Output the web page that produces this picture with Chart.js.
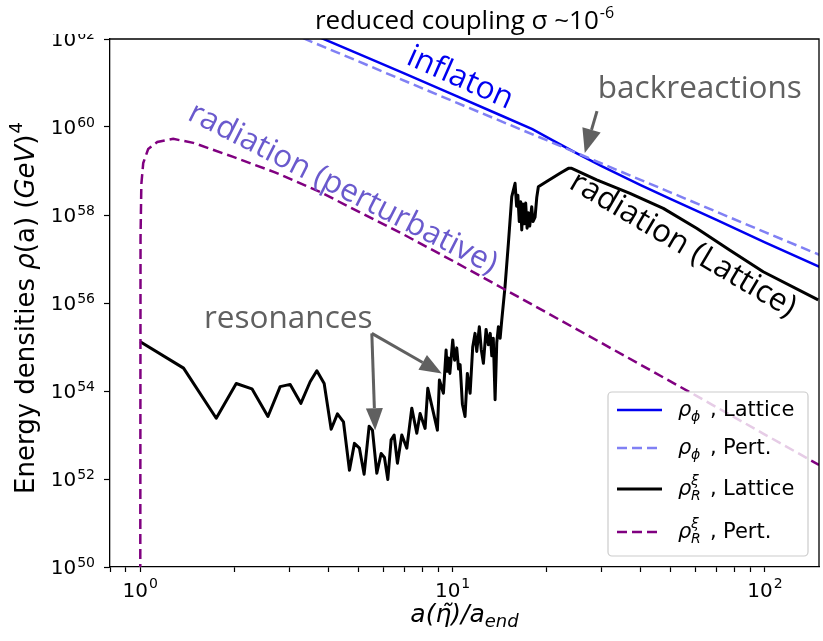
<!DOCTYPE html>
<html>
<head>
<meta charset="utf-8">
<style>
  html, body { margin: 0; padding: 0; background: #ffffff; }
  #wrap { width: 823px; height: 641px; }
</style>
<script src="https://cdn.jsdelivr.net/npm/chart.js@4.4.1/dist/chart.umd.min.js"></script>
</head>
<body>
<div id="wrap"><canvas id="c" width="823" height="641"></canvas></div>
<script>
// ---- data (scale factor a/a_end, log10 of energy density in GeV^4) ----
const inflLatticeA   = [3.5, 5, 7, 10, 14, 18, 21, 25, 30, 40, 50, 70, 100, 150];
const inflLatticeLog = [62.13, 61.66, 61.22, 60.74, 60.29, 59.95, 59.69, 59.40, 59.11, 58.68, 58.36, 57.89, 57.38, 56.82];

const inflPertA   = [3, 5, 10, 20, 30, 50, 100, 150];
const inflPertLog = [62.15, 61.49, 60.59, 59.70, 59.17, 58.51, 57.61, 57.09];

const radLatticeA = [1.000,1.376,1.751,2.029,2.278,2.563,2.805,3.020,3.267,3.499,
  3.676,3.880,4.085,4.279,4.473,4.675,4.850,5.032,5.209,5.405,
  5.539,5.720,5.905,6.051,6.203,6.356,6.498,6.659,6.877,7.135,
  7.402,7.680,7.870,8.166,8.329,8.641,8.941,9.074,9.346,
  9.533,9.61,9.696,9.80,10.01,10.15,10.31,10.45,10.57,10.75,10.96,11.15,11.38,11.60,11.80,11.95,
  12.18,12.35,12.55,12.80,13.02,13.20,13.35,13.50,13.68,13.85,14.02,14.20,
  14.37,14.72,15.09,15.47,
  15.85,16.03,16.18,16.35,16.52,16.65,16.81,16.96,17.14,17.32,17.48,17.66,17.92,18.09,18.37,18.60,18.82,
  20.01,22.08,23.48,24.07,28.93,36.98,47.28,60.44,77.27,98.76,148.1];
const radLatticeLog = [55.12,54.52,53.38,54.17,54.05,53.42,54.10,54.15,53.72,54.21,
  54.46,54.17,53.13,53.48,53.30,52.20,52.81,52.70,52.11,53.20,
  53.11,52.13,52.58,52.49,51.99,52.89,53.00,52.36,53.00,52.70,
  53.61,53.04,53.49,53.15,54.06,53.57,53.11,54.25,53.95,
  54.93,54.45,54.75,54.40,55.16,54.70,54.98,54.50,54.60,53.70,53.42,54.40,53.95,55.00,55.31,54.90,
  55.46,54.95,54.63,55.40,55.05,55.31,54.80,55.20,53.80,55.10,55.46,55.20,
  55.61,56.37,57.36,58.42,
  58.72,58.20,58.45,57.85,58.30,57.66,58.25,57.80,58.27,57.70,58.05,57.75,58.19,57.85,57.95,58.40,58.64,
  58.76,58.95,59.06,59.06,58.80,58.49,58.15,57.70,57.20,56.71,56.07];

const radPertA   = [1.0, 1.002, 1.008, 1.022, 1.06, 1.134, 1.275, 1.478, 1.985, 2.7, 3.77, 7.0, 10.0, 14.5, 30, 60, 100, 149];
const radPertLog = [49.5, 57.5, 58.7, 59.18, 59.5, 59.66, 59.73, 59.64, 59.32, 58.97, 58.52, 57.55, 56.96, 56.33, 55.09, 53.90, 53.01, 52.32];

// ---- axes ----
const xTickValues = [0.8, 0.9, 1, 2, 3, 4, 5, 6, 7, 8, 9, 10, 20, 30, 40, 50, 60, 70, 80, 90, 100];
const xLabelExps  = [0, 1, 2];
const yLabelExps  = [50, 52, 54, 56, 58, 60, 62];

const toPoints = (xs, logs) => xs.map((a, i) => ({ x: a, y: Math.pow(10, logs[i]) }));

const COLORS = {
  inflLattice: '#0000f0',
  inflPert: '#8080f4',
  radLattice: '#000000',
  radPert: '#800080',
  note: '#606060',
  pertText: '#6a5acd'
};

function supText(ctx, parts, x, y, align) {
  // parts: [{t, font, dy, gap}] drawn left to right
  let w = 0;
  parts.forEach(p => { ctx.font = p.font; p.w = ctx.measureText(p.t).width; w += p.w + (p.gap || 0); });
  let cx = align === 'right' ? x - w : (align === 'center' ? x - w / 2 : x);
  ctx.textAlign = 'left';
  ctx.textBaseline = 'alphabetic';
  parts.forEach(p => { ctx.font = p.font; ctx.fillText(p.t, cx, y + (p.dy || 0)); cx += p.w + (p.gap || 0); });
  return w;
}

function arrow(ctx, x0, y0, x1, y1, headLen, headW) {
  const ang = Math.atan2(y1 - y0, x1 - x0);
  const bx = x1 - headLen * Math.cos(ang), by = y1 - headLen * Math.sin(ang);
  ctx.beginPath(); ctx.moveTo(x0, y0); ctx.lineTo(bx, by); ctx.stroke();
  ctx.beginPath();
  ctx.moveTo(x1, y1);
  ctx.lineTo(bx + headW / 2 * Math.sin(ang), by - headW / 2 * Math.cos(ang));
  ctx.lineTo(bx - headW / 2 * Math.sin(ang), by + headW / 2 * Math.cos(ang));
  ctx.closePath(); ctx.fill();
}

const decor = {
  id: 'decor',
  afterDraw(chart) {
    const ctx = chart.ctx;
    const xs = chart.scales.x, ys = chart.scales.y;
    const area = chart.chartArea;
    const P = (a, e) => [xs.getPixelForValue(a), ys.getPixelForValue(Math.pow(10, e))];
    ctx.save();

    // top and right frame
    ctx.strokeStyle = '#000'; ctx.lineWidth = 1.3;
    ctx.beginPath();
    ctx.moveTo(area.left, area.top); ctx.lineTo(area.right, area.top); ctx.lineTo(area.right, area.bottom);
    ctx.stroke();

    // y tick labels
    ctx.fillStyle = '#000';
    yLabelExps.forEach(e => {
      const y = ys.getPixelForValue(Math.pow(10, e));
      supText(ctx, [
        { t: '10', font: '20px "DejaVu Sans"', gap: 1 },
        { t: String(e), font: '14px "DejaVu Sans"', dy: -7 }
      ], area.left - 15, y + 7, 'right');
    });
    // x tick labels
    xLabelExps.forEach(e => {
      const x = xs.getPixelForValue(Math.pow(10, e));
      supText(ctx, [
        { t: '10', font: '20px "DejaVu Sans"', gap: 1 },
        { t: String(e), font: '14px "DejaVu Sans"', dy: -9 }
      ], x, area.bottom + 30, 'center');
    });

    // white band at the very top, title above it
    ctx.fillStyle = '#ffffff';
    ctx.fillRect(0, 0, chart.width, area.top - 5);
    ctx.fillStyle = '#000';
    supText(ctx, [
      { t: 'reduced coupling σ ~10', font: '26px "Open Sans"', gap: 1 },
      { t: '-6', font: '16px "Open Sans"', dy: -11 }
    ], (area.left + area.right) / 2, 29, 'center');

    // axis titles
    ctx.fillStyle = '#000';
    supText(ctx, [
      { t: 'a(η\u0303)/a', font: 'italic 25px "DejaVu Sans"', gap: 0 },
      { t: 'end', font: 'italic 18px "DejaVu Sans"', dy: 5 }
    ], (area.left + area.right) / 2, 622, 'center');

    ctx.save();
    ctx.translate(34, 308);
    ctx.rotate(-Math.PI / 2);
    supText(ctx, [
      { t: 'Energy densities ', font: '26px "DejaVu Sans"' },
      { t: 'ρ', font: 'italic 26px "DejaVu Sans"' },
      { t: '(a) (', font: '26px "DejaVu Sans"' },
      { t: 'GeV', font: 'italic 26px "DejaVu Sans"' },
      { t: ')', font: '26px "DejaVu Sans"', gap: 1 },
      { t: '4', font: '18px "DejaVu Sans"', dy: -12 }
    ], 0, 0, 'center');
    ctx.restore();

    // annotations
    const rotText = (txt, color, font, a, e, deg) => {
      const [x, y] = P(a, e);
      ctx.save();
      ctx.translate(x, y); ctx.rotate(deg * Math.PI / 180);
      ctx.fillStyle = color; ctx.font = font;
      ctx.textAlign = 'center'; ctx.textBaseline = 'middle';
      ctx.fillText(txt, 0, 0);
      ctx.restore();
    };
    const noteFont = '31.5px "Open Sans"';
    rotText('inflaton', COLORS.inflLattice, noteFont, 10.57, 61.11, 24);
    rotText('radiation (perturbative)', COLORS.pertText, noteFont, 4.45, 58.60, 27);
    rotText('radiation (Lattice)', '#000', noteFont, 54.6, 57.32, 30.5);

    ctx.fillStyle = COLORS.note;
    ctx.font = noteFont;
    ctx.textAlign = 'center'; ctx.textBaseline = 'alphabetic';
    let [tx, ty] = P(61.9, 60.66);
    ctx.fillText('backreactions', tx, ty);
    [tx, ty] = P(2.976, 55.43);
    ctx.fillText('resonances', tx, ty);

    ctx.strokeStyle = COLORS.note; ctx.fillStyle = COLORS.note; ctx.lineWidth = 3;
    const t0 = P(29.0, 60.36), t1 = P(26.5, 59.41);
    arrow(ctx, t0[0], t0[1], t1[0], t1[1], 24, 19);
    const r0 = P(5.513, 55.31);
    let r1 = P(5.649, 53.11);
    arrow(ctx, r0[0], r0[1], r1[0], r1[1], 22, 17);
    r1 = P(9.235, 54.40);
    arrow(ctx, r0[0], r0[1], r1[0], r1[1], 22, 17);

    // legend
    const L = { x: 608, y: 392, w: 200, h: 164 };
    ctx.fillStyle = 'rgba(255,255,255,0.8)';
    ctx.strokeStyle = '#cccccc'; ctx.lineWidth = 1.2;
    ctx.beginPath();
    ctx.roundRect(L.x, L.y, L.w, L.h, 4);
    ctx.fill(); ctx.stroke();
    const rows = [
      { ds: 0, y: 410, sub: 'ϕ', sup: null, lbl: 'Lattice' },
      { ds: 1, y: 448, sub: 'ϕ', sup: null, lbl: 'Pert.' },
      { ds: 2, y: 489, sub: 'R', sup: 'ξ', lbl: 'Lattice' },
      { ds: 3, y: 532, sub: 'R', sup: 'ξ', lbl: 'Pert.' }
    ];
    rows.forEach(r => {
      const d = chart.data.datasets[r.ds];
      ctx.save();
      ctx.strokeStyle = d.borderColor; ctx.lineWidth = d.borderWidth;
      ctx.setLineDash(d.borderDash || []);
      ctx.beginPath(); ctx.moveTo(617, r.y); ctx.lineTo(662, r.y); ctx.stroke();
      ctx.restore();
      ctx.fillStyle = '#000';
      ctx.textAlign = 'left'; ctx.textBaseline = 'alphabetic';
      const base = r.y + 6;
      ctx.font = 'italic 21px "DejaVu Sans"';
      ctx.fillText('ρ', 678, base);
      ctx.font = 'italic 14px "DejaVu Sans"';
      ctx.fillText(r.sub, 691, base + 5);
      if (r.sup) ctx.fillText(r.sup, 691, base - 10);
      ctx.font = '21px "DejaVu Sans"';
      ctx.fillText(',', 710, base);
      ctx.fillText(r.lbl, 723, base);
    });

    ctx.restore();
  }
};

new Chart(document.getElementById('c'), {
  type: 'line',
  data: {
    datasets: [
      { label: 'rho_phi Lattice', data: toPoints(inflLatticeA, inflLatticeLog), borderColor: COLORS.inflLattice,
        borderWidth: 2.5, pointRadius: 0, tension: 0, order: 4 },
      { label: 'rho_phi Pert', data: toPoints(inflPertA, inflPertLog), borderColor: COLORS.inflPert,
        borderWidth: 2.5, borderDash: [10, 5], pointRadius: 0, tension: 0, order: 3 },
      { label: 'rho_R Lattice', data: toPoints(radLatticeA, radLatticeLog), borderColor: COLORS.radLattice,
        borderWidth: 3, pointRadius: 0, tension: 0, order: 2, borderJoinStyle: 'round' },
      { label: 'rho_R Pert', data: toPoints(radPertA, radPertLog), borderColor: COLORS.radPert,
        borderWidth: 2.5, borderDash: [10, 5], pointRadius: 0, tension: 0, order: 1 }
    ]
  },
  options: {
    responsive: false,
    animation: false,
    devicePixelRatio: 1,
    layout: { padding: { left: 104, right: 4, top: 39, bottom: 69 } },
    plugins: { legend: { display: false }, tooltip: { enabled: false }, title: { display: false } },
    scales: {
      x: {
        type: 'logarithmic', min: 0.8, max: 149,
        afterBuildTicks: s => { s.ticks = xTickValues.map(v => ({ value: v, major: [1, 10, 100].includes(v) })); },
        ticks: { display: false },
        grid: { drawOnChartArea: false, drawTicks: true, tickLength: 5, tickColor: '#000', tickWidth: 1.2 },
        border: { display: true, color: '#000', width: 1.3 }
      },
      y: {
        type: 'logarithmic', min: 1e50, max: 1e62,
        afterBuildTicks: s => { s.ticks = yLabelExps.map(e => ({ value: Math.pow(10, e), major: true })); },
        ticks: { display: false },
        grid: { drawOnChartArea: false, drawTicks: true, tickLength: 6, tickColor: '#000', tickWidth: 1.2 },
        border: { display: true, color: '#000', width: 1.3 }
      }
    }
  },
  plugins: [decor]
});
</script>
</body>
</html>
